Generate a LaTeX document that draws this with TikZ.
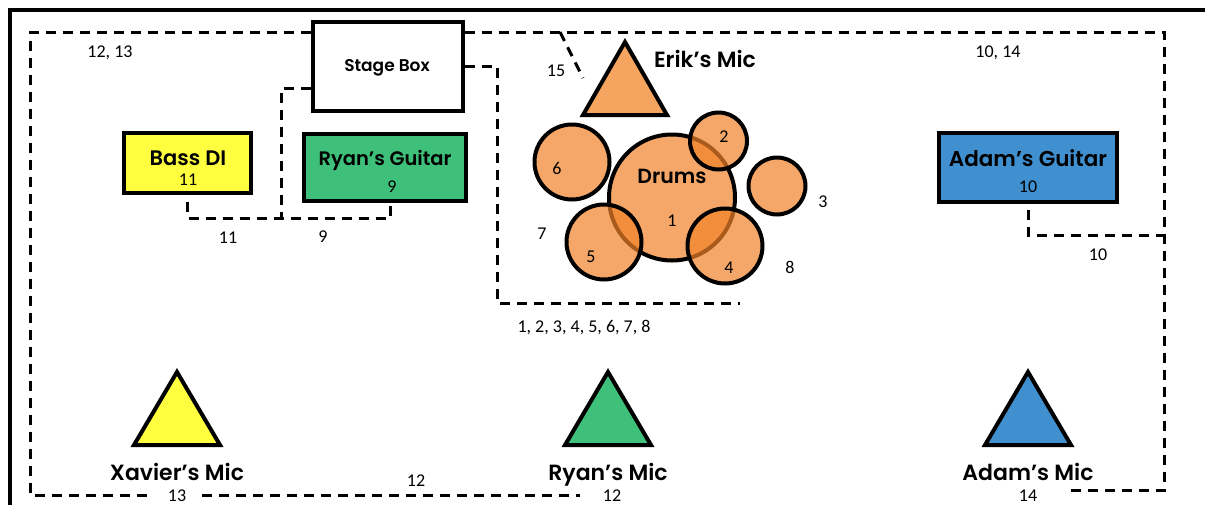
\documentclass[tikz,border=0pt]{standalone}
\usepackage{fontspec}
\setmainfont{Poppins}
\newfontfamily\namefont{Poppins SemiBold}
\newfontfamily\numfont{Carlito}
\usetikzlibrary{positioning}

\definecolor{bassyellow}{RGB}{255,255,64}
\definecolor{ryangreen}{RGB}{62,192,122}
\definecolor{adamblue}{RGB}{64,144,208}
\definecolor{drumorange}{RGB}{240,130,40}
\definecolor{micorange}{RGB}{245,165,95}

\tikzset{
  gear/.style={draw, line width=4pt, inner sep=0pt},
  drum/.style={circle, draw, line width=4pt, fill=drumorange, fill opacity=0.7, inner sep=0pt},
  mic/.style={draw, line width=4pt, line join=miter},
  cable/.style={line width=3pt, dash pattern=on 10pt off 7pt},
  gearname/.style={font=\namefont\fontsize{22}{22}\selectfont, inner sep=0pt, anchor=base},
  chan/.style={font=\numfont\fontsize{18}{18}\selectfont, inner sep=0pt, anchor=base}
}

\begin{document}
\begin{tikzpicture}[x=1pt, y=-1pt]
  \useasboundingbox (0,0) rectangle (1205,504);
  \draw[line width=4.5pt] (10,520) -- (10,10) -- (1220,10);

  % gear
  \node[gear, minimum width=150pt, minimum height=89pt] (stagebox) at (387.5,66.5) {};
  \node[gearname, font=\namefont\fontsize{17}{17}\selectfont] (stagebox-t) at (387,71) {Stage Box};
  \node[gear, fill=bassyellow, minimum width=127pt, minimum height=60pt] (bassdi) at (187.5,163) {};
  \node[gearname, font=\namefont\fontsize{21}{21}\selectfont] (bassdi-t) at (188,165) {Bass DI};
  \node[chan] (bassdi-c) at (188,185.5) {11};
  \node[gear, fill=ryangreen, minimum width=162pt, minimum height=67pt] (ryanguitar) at (385,167.5) {};
  \node[gearname, font=\namefont\fontsize{19.5}{20}\selectfont] (ryanguitar-t) at (385,165) {Ryan’s Guitar};
  \node[chan] (ryanguitar-c) at (392,192) {9};
  \node[gear, fill=adamblue, minimum width=178pt, minimum height=69pt] (adamguitar) at (1028,167.5) {};
  \node[gearname, font=\namefont\fontsize{21.5}{22}\selectfont] (adamguitar-t) at (1028,166) {Adam’s Guitar};
  \node[chan] (adamguitar-c) at (1028,192) {10};

  % drum kit
  \node[drum, minimum size=126pt] (kick) at (672,197.5) {};
  \node[drum, minimum size=75pt] (drum6) at (572,162) {};
  \node[drum, minimum size=57pt] (drum3) at (777,186) {};
  \node[drum, minimum size=57pt] (drum2) at (718.5,141) {};
  \node[drum, minimum size=75pt] (drum5) at (604,242) {};
  \node[drum, minimum size=75pt] (drum4) at (725,246) {};
  \node[gearname, font=\namefont\fontsize{20.5}{21}\selectfont] (kick-t) at (672,183) {Drums};
  \node[chan] (kick-c) at (672,226) {1};
  \node[chan] (drum2-c) at (724,142) {2};
  \node[chan] (drum3-c) at (823,207) {3};
  \node[chan] (drum4-c) at (729,273) {4};
  \node[chan] (drum5-c) at (591,262) {5};
  \node[chan] (drum6-c) at (557,174) {6};
  \node[chan] (drum7-c) at (542,239) {7};
  \node[chan] (drum8-c) at (790,273) {8};

  % mics
  \draw[mic, fill=micorange] (583,115) -- (625,42) -- (667,115) -- cycle;
  \node[gearname] (erikmic) at (705,67) {Erik’s Mic};
  \draw[mic, fill=bassyellow] (134,445) -- (177,372) -- (220,445) -- cycle;
  \node[gearname] (xaviermic) at (177,480.5) {Xavier’s Mic};
  \draw[mic, fill=ryangreen] (565,445) -- (608,372) -- (651,445) -- cycle;
  \node[gearname] (ryanmic) at (608,480.5) {Ryan’s Mic};
  \draw[mic, fill=adamblue] (985,445) -- (1028,372) -- (1071,445) -- cycle;
  \node[gearname] (adammic) at (1028,480.5) {Adam’s Mic};

  % cables
  \coordinate (snake-l) at (30,32);
  \coordinate (snake-r) at (1164,32);
  \coordinate (snake-bl) at (30,495);
  \coordinate (snake-br) at (1164,490);
  \coordinate (di-run) at (0,218);
  \coordinate (adam-run) at (0,235);
  \draw[cable] (stagebox.west |- snake-l) -- (snake-l) -- (snake-bl) -- (153,495);
  \draw[cable] (202,495) -- (580,495);
  \draw[cable] (stagebox.east |- snake-r) -- (snake-r) -- (snake-br) -- (1067,490);
  \draw[cable] (560,32) -- (583,78);
  \draw[cable] (stagebox.east) -- (497,66.5) -- (497,303) -- (740,303);
  \draw[cable] ([yshift=-21.5pt]stagebox.west) -- (281,88) -- (281,218);
  \draw[cable] ([yshift=-7pt]bassdi.south) -- (bassdi.south |- di-run) -- (390,218) -- (390,205);
  \draw[cable] ([yshift=-6pt]adamguitar.south) -- (adamguitar.south |- adam-run) -- (1164,235);

  % channels
  \node[chan] (ch1213) at (110,57) {12, 13};
  \node[chan] (ch1014) at (998,57) {10, 14};
  \node[chan] (ch15) at (556,76) {15};
  \node[chan] (ch11) at (228,243) {11};
  \node[chan] (ch9) at (323,242) {9};
  \node[chan] (chdrums) at (584,332) {1, 2, 3, 4, 5, 6, 7, 8};
  \node[chan] (ch10) at (1098,260) {10};
  \node[chan] (ch12a) at (416,486) {12};
  \node[chan] (ch13) at (177,501) {13};
  \node[chan] (ch12) at (612,501) {12};
  \node[chan] (ch14) at (1028,501) {14};
\end{tikzpicture}
\end{document}
